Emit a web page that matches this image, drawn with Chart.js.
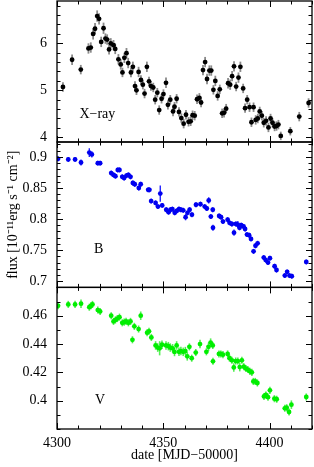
<!DOCTYPE html>
<html>
<head>
<meta charset="UTF-8" />
<title>X-ray and optical light curves</title>
<script src="https://cdn.jsdelivr.net/npm/chart.js"></script>
<style>
body { margin: 0; background: white; }
.grafica { width: 314px; height: 467px; }
</style>
</head>
<body>
<div class="grafica">
<canvas id="myChart" width="314" height="467"></canvas>
</div>
<script>
// X-ray panel
const xrayDate = [4302.8, 4307.1, 4311.2, 4314.8, 4315.9, 4317.0, 4317.9, 4318.9, 4319.8, 4320.8,
  4321.9, 4322.8, 4323.6, 4324.5, 4325.3, 4326.6, 4327.4, 4328.9, 4330.0, 4330.8,
  4331.7, 4332.7, 4333.5, 4334.8, 4335.7, 4336.7, 4337.4, 4338.4, 4339.5, 4340.4,
  4341.2, 4342.3, 4343.3, 4344.2, 4345.3, 4346.2, 4347.2, 4348.1, 4349.2, 4350.1,
  4351.3, 4352.2, 4353.3, 4354.6, 4355.3, 4356.3, 4357.4, 4358.5, 4359.6, 4360.7,
  4361.9, 4362.9, 4363.8, 4364.8, 4365.9, 4367.0, 4367.8, 4368.7, 4369.7, 4370.6,
  4371.7, 4372.6, 4373.6, 4374.5, 4375.6, 4376.6, 4377.7, 4378.6, 4379.6, 4380.5,
  4381.5, 4382.4, 4383.3, 4384.3, 4385.4, 4386.3, 4387.6, 4388.5, 4389.5, 4390.6,
  4391.5, 4392.5, 4393.5, 4394.5, 4395.4, 4396.4, 4397.3, 4398.4, 4399.5, 4400.5,
  4401.4, 4402.4, 4403.3, 4404.2, 4405.3, 4409.8, 4414.0, 4418.4];
const xrayFlux = [5.07, 5.65, 5.44, 5.89, 5.91, 6.20, 6.31, 6.58, 6.52, 6.03,
  6.32, 6.10, 6.08, 5.87, 6.00, 5.96, 5.88, 5.66, 5.55, 5.38,
  5.69, 5.79, 5.58, 5.38, 5.50, 5.09, 5.00, 5.39, 5.22, 5.12,
  4.93, 5.50, 5.19, 5.09, 5.06, 4.80, 4.95, 4.58, 4.82, 4.92,
  5.16, 4.69, 4.80, 4.55, 4.65, 4.82, 4.54, 4.41, 4.29, 4.48,
  4.33, 4.34, 4.47, 4.46, 4.81, 4.84, 4.74, 5.43, 5.60, 5.24,
  5.42, 5.42, 5.01, 5.20, 4.88, 5.02, 4.51, 4.52, 4.61, 5.15,
  5.12, 5.30, 5.51, 5.08, 5.27, 5.50, 5.04, 4.62, 4.80, 4.64,
  4.32, 4.64, 4.37, 4.40, 4.55, 4.46, 4.31, 4.35, 4.21, 4.40,
  4.31, 4.23, 4.24, 4.27, 4.03, 4.13, 4.44, 4.73];
const xrayErr = [0.10, 0.11, 0.10, 0.11, 0.11, 0.12, 0.12, 0.12, 0.12, 0.11,
  0.12, 0.11, 0.11, 0.11, 0.11, 0.11, 0.11, 0.11, 0.11, 0.10,
  0.11, 0.11, 0.11, 0.10, 0.11, 0.10, 0.10, 0.11, 0.10, 0.10,
  0.10, 0.11, 0.10, 0.10, 0.10, 0.10, 0.10, 0.10, 0.10, 0.10,
  0.11, 0.10, 0.10, 0.10, 0.10, 0.10, 0.10, 0.10, 0.10, 0.10,
  0.10, 0.10, 0.10, 0.10, 0.10, 0.10, 0.10, 0.11, 0.11, 0.11,
  0.11, 0.11, 0.10, 0.11, 0.10, 0.10, 0.10, 0.10, 0.10, 0.11,
  0.11, 0.11, 0.11, 0.10, 0.11, 0.11, 0.10, 0.10, 0.10, 0.10,
  0.10, 0.10, 0.10, 0.10, 0.10, 0.10, 0.10, 0.10, 0.10, 0.10,
  0.10, 0.10, 0.10, 0.10, 0.09, 0.09, 0.10, 0.10];

// B band panel
const bDate = [4300.5, 4305.3, 4308.5, 4311.3, 4315.2, 4316.4, 4319.2, 4320.3, 4325.5, 4326.6,
  4327.5, 4328.6, 4329.4, 4330.7, 4331.6, 4332.7, 4333.6, 4334.6, 4335.7, 4336.6,
  4338.5, 4339.4, 4342.9, 4343.5, 4344.3, 4346.4, 4347.5, 4348.6, 4349.5, 4351.4,
  4352.5, 4353.4, 4354.3, 4355.4, 4356.3, 4357.4, 4358.3, 4359.4, 4360.5, 4361.4,
  4362.4, 4363.5, 4365.4, 4367.5, 4369.5, 4370.5, 4371.4, 4372.4, 4373.3, 4373.4,
  4376.3, 4377.2, 4378.1, 4380.3, 4381.2, 4382.3, 4383.3, 4384.2, 4385.1, 4385.9,
  4386.7, 4387.8, 4388.5, 4389.4, 4390.4, 4391.3, 4392.5, 4393.4, 4394.4, 4397.3,
  4398.2, 4399.3, 4400.2, 4402.4, 4403.3, 4407.2, 4408.3, 4409.4, 4410.5, 4417.3];
const bFlux = [0.897, 0.896, 0.896, 0.891, 0.907, 0.904, 0.890, 0.890, 0.874, 0.871,
  0.869, 0.879, 0.879, 0.868, 0.866, 0.870, 0.871, 0.868, 0.858, 0.856,
  0.850, 0.856, 0.847, 0.847, 0.829, 0.826, 0.820, 0.841, 0.822, 0.815,
  0.811, 0.815, 0.816, 0.810, 0.813, 0.816, 0.815, 0.814, 0.803, 0.810,
  0.815, 0.807, 0.823, 0.824, 0.820, 0.817, 0.830, 0.804, 0.815, 0.786,
  0.805, 0.803, 0.796, 0.799, 0.794, 0.792, 0.778, 0.792, 0.791, 0.786,
  0.790, 0.788, 0.784, 0.775, 0.774, 0.768, 0.748, 0.757, 0.761, 0.738,
  0.734, 0.730, 0.737, 0.724, 0.718, 0.709, 0.715, 0.709, 0.708, 0.731];
const bErr = [0.004, 0.004, 0.004, 0.005, 0.007, 0.005, 0.004, 0.004, 0.004, 0.004,
  0.004, 0.004, 0.004, 0.004, 0.004, 0.004, 0.004, 0.004, 0.004, 0.004,
  0.004, 0.004, 0.004, 0.004, 0.004, 0.004, 0.004, 0.013, 0.004, 0.004,
  0.004, 0.004, 0.004, 0.004, 0.004, 0.004, 0.004, 0.004, 0.005, 0.004,
  0.004, 0.004, 0.004, 0.004, 0.004, 0.004, 0.005, 0.004, 0.004, 0.005,
  0.004, 0.004, 0.004, 0.004, 0.004, 0.004, 0.005, 0.004, 0.006, 0.004,
  0.004, 0.004, 0.004, 0.004, 0.004, 0.004, 0.004, 0.004, 0.004, 0.004,
  0.004, 0.004, 0.004, 0.004, 0.004, 0.004, 0.004, 0.004, 0.004, 0.004];

// V band panel
const vDate = [4300.5, 4305.3, 4308.5, 4311.3, 4315.2, 4316.0, 4316.7, 4319.2, 4320.3, 4325.5,
  4326.6, 4327.5, 4328.4, 4329.4, 4330.7, 4331.6, 4332.5, 4333.6, 4334.6, 4335.5,
  4336.4, 4338.4, 4339.4, 4342.4, 4343.3, 4344.4, 4346.4, 4347.4, 4348.3, 4349.4,
  4351.3, 4352.4, 4353.3, 4354.4, 4355.3, 4356.3, 4357.4, 4358.3, 4359.4, 4360.4,
  4361.3, 4362.3, 4363.4, 4365.3, 4367.3, 4370.3, 4371.3, 4372.3, 4373.3, 4373.4,
  4376.2, 4377.1, 4378.1, 4380.3, 4381.2, 4382.3, 4383.2, 4384.1, 4385.1, 4386.0,
  4387.0, 4387.9, 4388.9, 4389.8, 4390.8, 4391.7, 4392.4, 4393.3, 4394.3, 4397.4,
  4398.3, 4399.3, 4400.2, 4402.3, 4403.4, 4407.2, 4408.1, 4409.2, 4410.3, 4417.3];
const vFlux = [0.467, 0.468, 0.468, 0.4685, 0.466, 0.467, 0.468, 0.464, 0.463, 0.460,
  0.456, 0.457, 0.458, 0.459, 0.455, 0.4555, 0.456, 0.455, 0.456, 0.443,
  0.4525, 0.4506, 0.460, 0.448, 0.449, 0.4447, 0.439, 0.4375, 0.437, 0.4395,
  0.439, 0.4385, 0.4375, 0.437, 0.4344, 0.439, 0.4345, 0.435, 0.4345, 0.435,
  0.4313, 0.438, 0.430, 0.434, 0.440, 0.4345, 0.438, 0.441, 0.439, 0.4278,
  0.433, 0.433, 0.4325, 0.433, 0.430, 0.4285, 0.4235, 0.428, 0.428, 0.4237,
  0.4285, 0.424, 0.4227, 0.422, 0.4207, 0.420, 0.4136, 0.4136, 0.4125, 0.403,
  0.404, 0.4025, 0.4073, 0.4014, 0.401, 0.3946, 0.395, 0.392, 0.3972, 0.4026];
const vErr = [0.0025, 0.0025, 0.0025, 0.003, 0.0025, 0.0025, 0.0025, 0.0025, 0.0025, 0.0025,
  0.0025, 0.0025, 0.0025, 0.0025, 0.0025, 0.0025, 0.0025, 0.0025, 0.0025, 0.0025,
  0.0025, 0.0025, 0.003, 0.0025, 0.0025, 0.0025, 0.003, 0.003, 0.005, 0.003,
  0.003, 0.003, 0.003, 0.003, 0.003, 0.003, 0.003, 0.003, 0.003, 0.003,
  0.003, 0.0025, 0.0025, 0.0025, 0.003, 0.0025, 0.003, 0.003, 0.0025, 0.0025,
  0.0025, 0.0025, 0.0025, 0.0025, 0.0025, 0.0025, 0.003, 0.0025, 0.0025, 0.003,
  0.0025, 0.0025, 0.0025, 0.0025, 0.0025, 0.0025, 0.0025, 0.0025, 0.0025, 0.0025,
  0.0025, 0.0025, 0.0025, 0.0025, 0.0025, 0.0025, 0.0025, 0.0025, 0.003, 0.0025];

// tick labels
const xTicks = [4300, 4350, 4400];
const xrayTicks = [4, 5, 6];
const bTicks = [0.7, 0.75, 0.8, 0.85, 0.9];
const vTicks = [0.4, 0.42, 0.44, 0.46];

// panel names, placed in data coordinates of each panel
const panelNames = [
  { axis: "yX", text: "X\u2212ray", x: 4319, y: 4.48 },
  { axis: "yB", text: "B", x: 4319.6, y: 0.751 },
  { axis: "yV", text: "V", x: 4320.3, y: 0.400 }
];

const FONT = "Liberation Serif";
Chart.defaults.font.family = FONT;
Chart.defaults.color = "#000";

function points(xs, ys) {
  return xs.map((x, i) => ({ x: x, y: ys[i] }));
}

// minor tick steps for the inward ticks
const minorStep = { x: 10, yX: 0.2, yB: 0.01, yV: 0.01 };

const decor = {
  id: "decor",
  beforeDatasetsDraw(chart) {
    const ctx = chart.ctx;
    const xs = chart.scales.x;
    ctx.save();
    chart.data.datasets.forEach((ds) => {
      const ys = chart.scales[ds.yAxisID];
      ctx.strokeStyle = ds.errColor;
      ctx.lineWidth = ds.errWidth;
      ds.data.forEach((p, i) => {
        const px = xs.getPixelForValue(p.x);
        ctx.beginPath();
        ctx.moveTo(px, ys.getPixelForValue(p.y - ds.err[i]));
        ctx.lineTo(px, ys.getPixelForValue(p.y + ds.err[i]));
        ctx.stroke();
      });
    });
    ctx.restore();
  },
  afterDraw(chart) {
    const ctx = chart.ctx;
    const area = chart.chartArea;
    const xs = chart.scales.x;
    ctx.save();
    ctx.strokeStyle = "#000";
    ["yX", "yB", "yV"].forEach((id) => {
      const s = chart.scales[id];
      // ticks on the y sides
      ctx.lineWidth = 1;
      ctx.beginPath();
      const step = minorStep[id];
      const start = Math.ceil(s.min / step - 1e-6);
      for (let k = start; k * step <= s.max + 1e-9; k++) {
        const v = k * step;
        const major = s.ticks.some((t) => Math.abs(t.value - v) < step / 10);
        const len = major ? 6 : 3.5;
        const py = Math.round(s.getPixelForValue(v)) + 0.5;
        ctx.moveTo(area.left, py); ctx.lineTo(area.left + len, py);
        ctx.moveTo(area.right, py); ctx.lineTo(area.right - len, py);
      }
      // ticks on the x sides
      for (let v = xs.min; v <= xs.max; v += minorStep.x) {
        const major = xTicks.includes(v);
        const len = major ? 6 : 3.5;
        const px = Math.round(xs.getPixelForValue(v)) + 0.5;
        ctx.moveTo(px, s.top); ctx.lineTo(px, s.top + len);
        ctx.moveTo(px, s.bottom); ctx.lineTo(px, s.bottom - len);
      }
      ctx.stroke();
      ctx.lineWidth = 1.3;
      ctx.strokeRect(area.left, s.top, area.right - area.left, s.bottom - s.top);
    });
    // panel names
    ctx.fillStyle = "#000";
    ctx.font = "14px '" + FONT + "'";
    ctx.textAlign = "center";
    ctx.textBaseline = "middle";
    panelNames.forEach((n) => {
      ctx.fillText(n.text, xs.getPixelForValue(n.x), chart.scales[n.axis].getPixelForValue(n.y));
    });
    ctx.restore();
  }
};

function yAxis(min, max, weight, ticks, extra) {
  return Object.assign({
    type: "linear",
    position: "left",
    stack: "panels",
    stackWeight: weight,
    min: min,
    max: max,
    grid: { display: false, drawTicks: false },
    border: { display: false },
    ticks: { padding: 10, font: { size: 14, lineHeight: 1 }, callback: (v) => String(v) },
    afterBuildTicks: (s) => { s.ticks = ticks.map((v) => ({ value: v })); },
    afterFit: (s) => { s.width = 57; s.paddingTop = 0; s.paddingBottom = 0; }
  }, extra || {});
}

function renderGrafica() {
  const config = {
    type: "scatter",
    data: {
      datasets: [
        {
          label: "V",
          yAxisID: "yV",
          data: points(vDate, vFlux),
          err: vErr,
          errColor: "#55ee55",
          errWidth: 1.6,
          backgroundColor: "#00ee00",
          pointRadius: 2.4,
          pointBorderWidth: 0
        },
        {
          label: "B",
          yAxisID: "yB",
          data: points(bDate, bFlux),
          err: bErr,
          errColor: "#2222ff",
          errWidth: 1.4,
          backgroundColor: "#0000f0",
          pointRadius: 2.4,
          pointBorderWidth: 0
        },
        {
          label: "X-ray",
          yAxisID: "yX",
          data: points(xrayDate, xrayFlux),
          err: xrayErr,
          errColor: "#8a8a8a",
          errWidth: 1.8,
          backgroundColor: "#000",
          pointRadius: 2.4,
          pointBorderWidth: 0
        }
      ]
    },
    options: {
      responsive: false,
      animation: false,
      layout: { autoPadding: false, padding: { top: 1, right: 2, left: 0, bottom: 0 } },
      plugins: { legend: { display: false }, tooltip: { enabled: false } },
      scales: {
        x: {
          type: "linear",
          position: "bottom",
          min: 4300,
          max: 4420,
          grid: { display: false, drawTicks: false },
          border: { display: false },
          ticks: { padding: 7, font: { size: 14, lineHeight: 1 }, callback: (v) => String(v) },
          afterBuildTicks: (s) => { s.ticks = xTicks.map((v) => ({ value: v })); },
          afterFit: (s) => { s.height = 38; s.paddingLeft = 0; s.paddingRight = 0; },
          title: {
            display: true,
            text: "date [MJD\u221250000]",
            font: { size: 14, lineHeight: 1 },
            padding: { top: 0, bottom: 5 }
          }
        },
        yV: yAxis(0.38, 0.48, 141.6, vTicks),
        yB: yAxis(0.69, 0.924, 145.4, bTicks, {
          title: {
            display: true,
            text: "flux [10\u207B\u00B9\u00B9erg s\u207B\u00B9 cm\u207B\u00B2]",
            font: { size: 14, lineHeight: 1 },
            padding: { top: 6, bottom: 0 }
          }
        }),
        yX: yAxis(3.9, 6.9, 141, xrayTicks)
      }
    },
    plugins: [decor]
  };
  new Chart(document.getElementById("myChart"), config);
}
renderGrafica();
</script>
</body>
</html>
